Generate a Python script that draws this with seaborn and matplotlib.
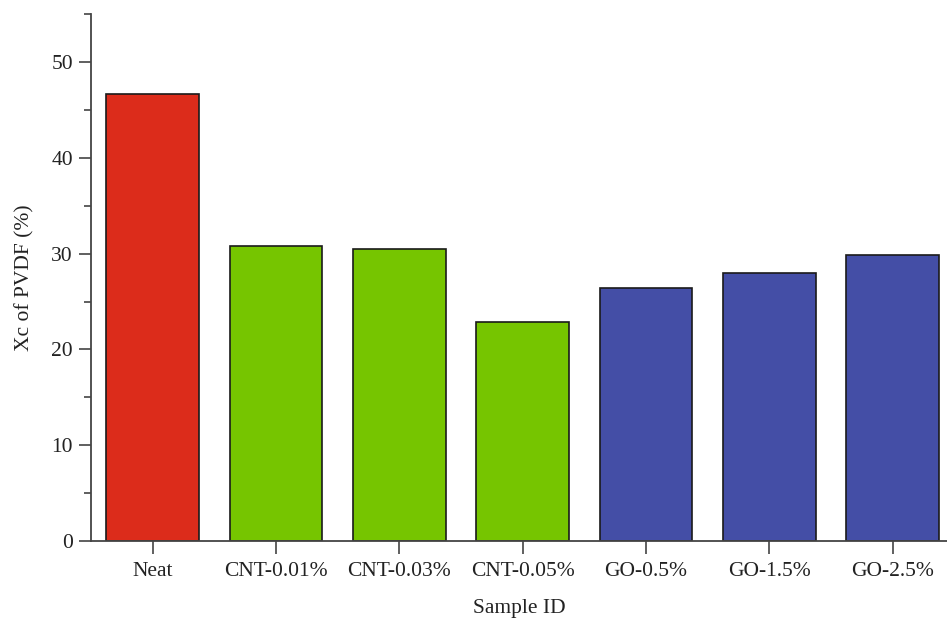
import matplotlib
matplotlib.use("Agg")
import matplotlib.pyplot as plt
from matplotlib.ticker import MultipleLocator
import seaborn as sns
import pandas as pd

samples = ["Neat", "CNT-0.01%", "CNT-0.03%", "CNT-0.05%", "GO-0.5%", "GO-1.5%", "GO-2.5%"]
xc_values = [46.7, 30.8, 30.5, 22.9, 26.4, 28.0, 29.9]
bar_colors = ["#DC2C1B", "#76C500", "#76C500", "#76C500", "#444EA6", "#444EA6", "#444EA6"]

df = pd.DataFrame({"Sample ID": samples, "Xc": xc_values})

sns.set_theme(style="ticks")
plt.rcParams["font.family"] = ["Liberation Serif", "DejaVu Serif"]

fig = plt.figure(figsize=(9.47, 6.22), dpi=100)
ax = fig.add_axes([0.096, 0.130, 0.904, 0.8475])

sns.barplot(data=df, x="Sample ID", y="Xc", hue="Sample ID",
            palette=dict(zip(samples, bar_colors)), saturation=1,
            width=0.75, edgecolor="#1a1a1a", linewidth=1.2, legend=False, ax=ax)

ax.set_ylim(0, 55)
ax.set_xlim(-0.5, 6.44)
ax.yaxis.set_major_locator(MultipleLocator(10))
ax.yaxis.set_minor_locator(MultipleLocator(5))

for side in ["top", "right"]:
    ax.spines[side].set_visible(False)
for side in ["left", "bottom"]:
    ax.spines[side].set_color("#444444")
    ax.spines[side].set_linewidth(1.3)

ax.tick_params(axis="both", which="major", direction="out", length=9, width=1.2,
               color="#444444", labelsize=15.5, labelcolor="#222222", pad=4)
ax.tick_params(axis="x", which="major", pad=6)
ax.tick_params(axis="y", which="minor", direction="out", length=5, width=1.2, color="#444444")

ax.set_ylabel("Xc of PVDF (%)", fontsize=15.5, color="#222222", labelpad=12)
ax.set_xlabel("Sample ID", fontsize=15.5, color="#222222", labelpad=13)

fig.savefig("out.png", dpi=100)
